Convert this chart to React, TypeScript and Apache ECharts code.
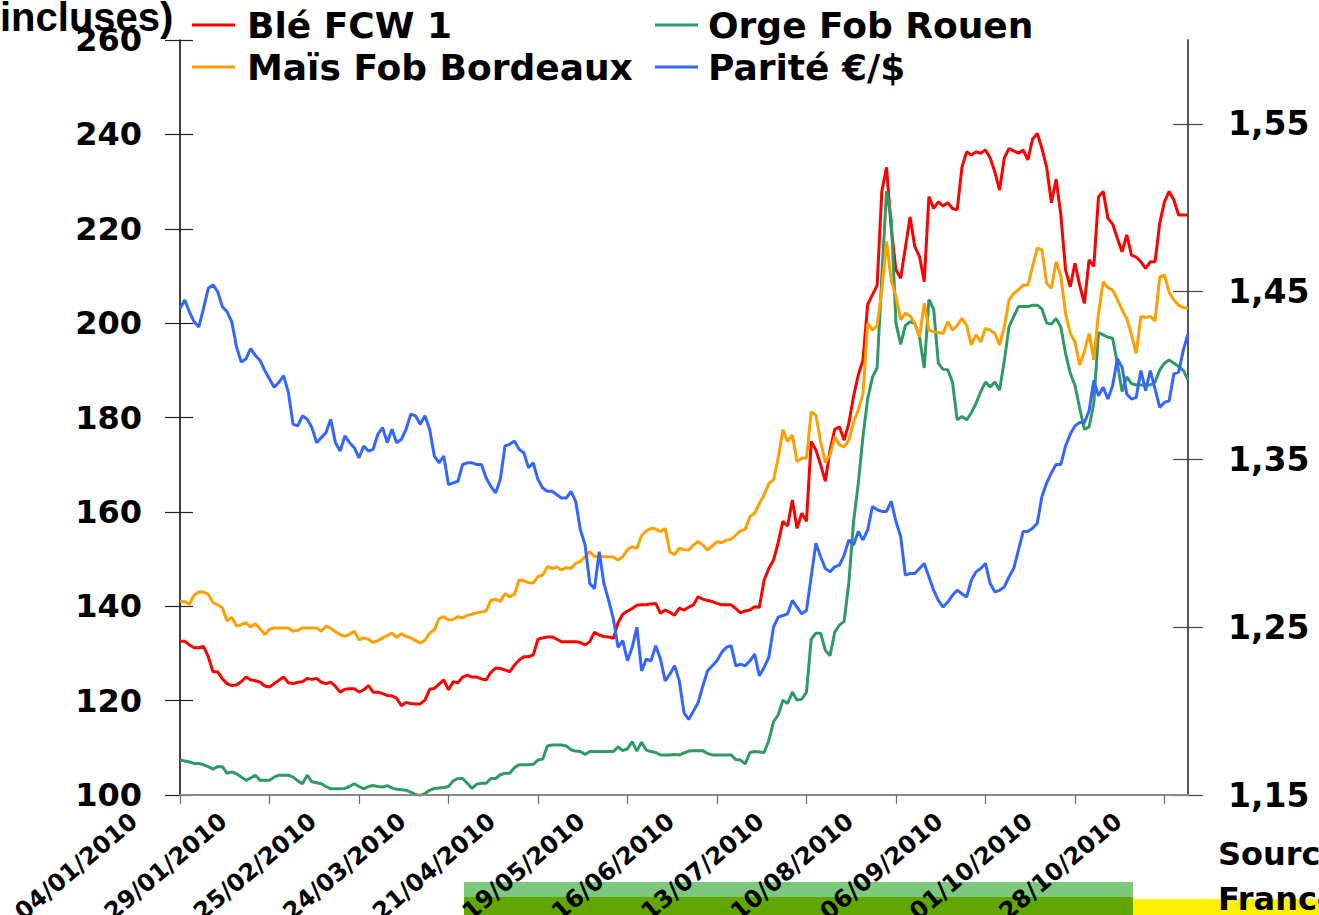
import React, { useEffect, useRef } from "react";
import * as echarts from "echarts";

// ---------- data ----------
const START_DATE = "2010-01-04";
const HOLIDAYS = ["2010-04-05", "2010-05-13", "2010-05-24", "2010-07-14", "2010-11-01"];

const BLE = [
  132.6, 132.6, 131.8, 131.2, 131.2, 131.5, 129.3, 126.1, 126.1, 124.6,
  123.6, 123.2, 123.3, 124.0, 125.0, 124.4, 124.2, 123.9, 123.1, 122.9,
  123.6, 124.3, 125.0, 123.8, 123.6, 123.9, 124.0, 124.7, 124.5, 124.7,
  123.9, 123.6, 123.9, 123.0, 121.8, 122.4, 122.5, 122.5, 121.8, 122.3,
  123.2, 121.8, 121.8, 121.5, 121.1, 121.0, 120.5, 118.9, 119.6, 119.4,
  119.3, 119.3, 120.1, 122.4, 122.6, 123.5, 124.4, 122.3, 124.0, 123.8,
  125.0, 125.4, 125.0, 125.0, 124.6, 124.4, 126.0, 126.9, 126.8, 126.5,
  126.1, 127.5, 128.6, 129.3, 129.3, 129.7, 133.0, 133.3, 133.5, 133.5,
  133.0, 132.5, 132.5, 132.5, 132.5, 132.3, 131.8, 132.5, 134.5, 133.9,
  133.6, 133.5, 133.2, 136.5, 138.3, 139.0, 139.5, 140.2, 140.3, 140.3,
  140.5, 140.6, 138.5, 139.2, 138.7, 138.1, 139.6, 139.2, 139.8, 140.3,
  142.0, 141.5, 141.2, 141.0, 140.6, 140.3, 140.3, 140.3, 139.5, 138.6,
  139.0, 139.2, 139.9, 139.8, 145.5, 148.0, 149.8, 153.5, 158.0, 157.0,
  162.5, 156.5, 159.7, 158.0, 174.9, 173.1, 170.0, 166.5, 173.0, 177.5,
  178.0, 175.2, 178.8, 184.5, 189.0, 192.2, 204.0, 206.0, 208.0, 228.0,
  233.0, 220.0, 211.3, 209.5, 216.0, 222.5, 216.2, 214.1, 208.8, 226.8,
  224.3, 225.7, 224.8, 225.5, 224.3, 224.0, 233.0, 236.3, 235.6, 236.3,
  236.0, 236.7, 235.0, 232.0, 228.2, 235.0, 237.0, 236.5, 236.0, 236.7,
  234.6, 239.0, 240.2, 237.0, 233.0, 225.5, 230.5, 223.0, 211.3, 207.7,
  212.7, 208.0, 204.2, 213.4, 212.0, 226.8, 227.9, 222.2, 221.0, 218.0,
  215.1, 218.7, 214.4, 214.0, 213.0, 211.6, 213.0, 213.0, 221.2, 225.7,
  227.9, 226.1, 222.9, 222.9, 222.9,
];

const ORGE = [
  107.4, 107.2, 107.0, 106.7, 106.7, 106.4, 106.0, 105.5, 106.0, 106.0,
  104.6, 104.9, 104.5, 103.8, 103.1, 103.6, 104.2, 103.1, 103.1, 103.1,
  103.8, 104.2, 104.2, 104.2, 103.8, 103.0, 102.4, 104.2, 102.8, 102.6,
  102.4, 101.8, 101.3, 101.3, 101.3, 101.4, 101.8, 102.4, 101.8, 101.3,
  101.8, 102.0, 101.8, 101.7, 102.0, 101.5, 101.2, 101.1, 101.0, 100.6,
  100.1, 99.9, 100.3, 101.0, 101.4, 101.5, 101.6, 101.8, 103.0, 103.5,
  103.5, 102.5, 101.4, 102.3, 102.5, 102.5, 103.5, 103.5, 104.3, 104.6,
  104.6, 105.8, 106.4, 106.4, 106.4, 106.5, 107.4, 107.6, 110.4, 110.6,
  110.6, 110.6, 110.4, 109.6, 109.3, 109.2, 108.6, 109.2, 109.2, 109.2,
  109.2, 109.2, 109.2, 110.2, 109.4, 109.8, 111.3, 109.3, 111.2, 109.5,
  109.2, 109.0, 108.5, 108.5, 108.5, 108.6, 108.5, 108.9, 109.3, 109.4,
  109.4, 109.4, 108.8, 108.5, 108.5, 108.5, 108.5, 108.5, 107.5, 107.4,
  106.6, 109.0, 109.2, 109.1, 109.0, 111.5, 115.5, 117.0, 120.1, 119.4,
  121.8, 120.1, 120.3, 121.8, 133.0, 134.3, 134.3, 130.7, 129.5, 134.5,
  136.0, 136.8, 145.0, 158.0, 166.0, 176.0, 184.0, 188.5, 190.5, 210.0,
  228.0, 222.0, 200.0, 195.5, 199.5, 200.3, 199.9, 197.1, 190.5, 205.0,
  203.0, 191.5, 190.2, 190.1, 187.5, 179.5, 180.2, 179.5, 181.0, 183.0,
  185.5, 187.5, 186.5, 187.5, 185.8, 192.0, 199.2, 201.4, 203.5, 203.5,
  203.5, 203.8, 203.8, 203.0, 200.0, 199.8, 201.0, 199.2, 193.6, 189.4,
  186.8, 182.0, 177.5, 178.0, 183.0, 198.0, 197.5, 197.0, 196.8, 191.5,
  185.5, 188.6, 187.2, 186.9, 186.9, 186.9, 186.9, 187.5, 190.1, 191.5,
  192.2, 191.5, 190.8, 190.0, 188.0,
];

const MAIS = [
  141.0, 141.0, 140.4, 142.4, 143.0, 143.0, 142.5, 140.8, 140.3, 139.7,
  136.9, 137.6, 135.8, 136.1, 136.5, 135.6, 136.3, 135.2, 134.0, 135.1,
  135.4, 135.4, 135.4, 135.4, 134.7, 134.9, 135.4, 135.4, 135.4, 135.4,
  134.7, 135.8, 135.3, 134.6, 134.0, 133.6, 134.1, 134.7, 132.9, 133.3,
  133.0, 132.3, 132.7, 133.3, 133.8, 134.3, 133.4, 134.2, 133.6, 133.3,
  132.7, 132.2, 132.8, 134.3, 135.0, 137.4, 137.8, 137.1, 137.2, 137.8,
  137.5, 138.1, 138.3, 138.6, 138.8, 139.0, 141.3, 141.5, 141.0, 142.7,
  142.0, 142.5, 145.6, 145.4, 145.0, 144.9, 146.3, 146.6, 148.4, 148.0,
  148.3, 147.7, 148.2, 148.0, 149.1, 149.5, 150.5, 151.6, 150.5, 150.6,
  150.5, 150.5, 150.4, 149.8, 150.5, 152.0, 152.6, 152.3, 155.0, 156.0,
  156.5, 156.4, 155.8, 156.5, 151.5, 150.9, 152.3, 152.0, 151.9, 153.0,
  153.7, 153.0, 151.9, 152.8, 153.7, 153.5, 154.0, 154.2, 155.1, 156.0,
  156.3, 159.0, 159.7, 161.8, 163.6, 166.0, 166.8, 171.4, 177.4, 174.9,
  176.3, 170.6, 171.4, 171.4, 181.2, 180.5, 174.9, 170.5, 172.0, 175.9,
  174.2, 173.8, 175.2, 179.0, 181.6, 185.0, 200.0, 198.5, 199.5, 207.0,
  217.3, 209.0, 205.6, 200.7, 202.1, 201.5, 200.0, 197.1, 204.2, 198.5,
  198.2, 198.0, 197.8, 200.3, 198.5, 199.5, 201.0, 199.5, 195.4, 197.5,
  196.0, 198.9, 198.5, 197.8, 195.4, 199.2, 204.9, 206.3, 207.0, 208.1,
  208.0, 212.0, 215.9, 215.5, 208.4, 207.4, 213.0, 210.0, 202.1, 197.8,
  196.0, 191.1, 194.0, 197.8, 192.2, 202.1, 208.8, 207.5, 207.0, 205.0,
  202.8, 201.0, 197.5, 193.6, 201.4, 201.2, 201.4, 200.5, 209.8, 210.2,
  206.5, 204.9, 203.8, 203.3, 203.1,
];

const PARITE = [
  1.44, 1.445, 1.438, 1.432, 1.429, 1.44, 1.452, 1.454, 1.45, 1.441,
  1.438, 1.432, 1.417, 1.408, 1.41, 1.416, 1.412, 1.409, 1.403, 1.398,
  1.393, 1.396, 1.4, 1.39, 1.371, 1.37, 1.376, 1.374, 1.369, 1.36,
  1.363, 1.366, 1.374, 1.36, 1.355, 1.364, 1.36, 1.357, 1.351, 1.358,
  1.355, 1.356, 1.365, 1.369, 1.36, 1.368, 1.36, 1.362, 1.368, 1.377,
  1.376, 1.371, 1.376, 1.368, 1.352, 1.348, 1.352, 1.335, 1.336, 1.337,
  1.347, 1.348, 1.348, 1.347, 1.347, 1.339, 1.334, 1.33, 1.338, 1.358,
  1.359, 1.361, 1.356, 1.354, 1.345, 1.348, 1.338, 1.333, 1.331, 1.331,
  1.329, 1.327, 1.327, 1.331, 1.325, 1.308, 1.299, 1.276, 1.273, 1.295,
  1.276, 1.266, 1.255, 1.238, 1.242, 1.23, 1.238, 1.25, 1.224, 1.231,
  1.23, 1.239, 1.231, 1.218, 1.222, 1.227, 1.218, 1.199, 1.195, 1.2,
  1.205, 1.215, 1.224, 1.227, 1.23, 1.235, 1.238, 1.239, 1.227, 1.228,
  1.227, 1.23, 1.234, 1.221, 1.226, 1.232, 1.25, 1.256, 1.257, 1.258,
  1.266, 1.262, 1.258, 1.26, 1.28, 1.3, 1.292, 1.285, 1.283, 1.286,
  1.287, 1.293, 1.302, 1.299, 1.307, 1.302, 1.308, 1.322, 1.32, 1.319,
  1.319, 1.325, 1.313, 1.304, 1.281, 1.282, 1.282, 1.285, 1.288, 1.28,
  1.272, 1.266, 1.262, 1.265, 1.269, 1.272, 1.27, 1.268, 1.278, 1.283,
  1.285, 1.288, 1.276, 1.271, 1.272, 1.274, 1.28, 1.285, 1.296, 1.307,
  1.307, 1.309, 1.312, 1.328, 1.336, 1.342, 1.347, 1.347, 1.358, 1.365,
  1.37, 1.372, 1.372, 1.379, 1.397, 1.388, 1.393, 1.386, 1.394, 1.41,
  1.405, 1.389, 1.386, 1.387, 1.403, 1.391, 1.403, 1.392, 1.381, 1.384,
  1.385, 1.401, 1.402, 1.415, 1.425,
];

const RIGHT_TICKS = [1.15, 1.25, 1.35, 1.45, 1.55];

const SERIES_NAMES = ["Blé FCW 1", "Orge Fob Rouen", "Maïs Fob Bordeaux", "Parité €/$"];
const SERIES_COLORS = ["#ff0000", "#2f9a64", "#ffa000", "#3366ff"];

// trading days (weekends and market holidays skipped)
function tradingDays(start: string, count: number): string[] {
  const out: string[] = [];
  const d = new Date(start + "T00:00:00Z");
  while (out.length < count) {
    const wd = d.getUTCDay();
    const iso = d.toISOString().slice(0, 10);
    if (wd !== 0 && wd !== 6 && HOLIDAYS.indexOf(iso) < 0) {
      const [y, m, dd] = iso.split("-");
      out.push(`${dd}/${m}/${y}`);
    }
    d.setUTCDate(d.getUTCDate() + 1);
  }
  return out;
}

const DATES = tradingDays(START_DATE, BLE.length);

const FONT = "DejaVu Sans";

export default function App() {
  const ref = useRef<HTMLDivElement>(null);

  useEffect(() => {
    if (!ref.current) return;
    const chart = echarts.init(ref.current, undefined, { renderer: "svg" });

    const legendText = {
      fontFamily: FONT,
      fontWeight: "bold" as const,
      fontSize: 36,
      color: "#000",
      lineHeight: 36,
      padding: [0, 0, 0, 7],
    };

    const mk = (i: number, data: number[], yAxisIndex: number) => ({
      name: SERIES_NAMES[i],
      type: "line" as const,
      data,
      yAxisIndex,
      showSymbol: false,
      symbol: "none",
      lineStyle: { color: SERIES_COLORS[i], width: 3 },
      itemStyle: { color: SERIES_COLORS[i] },
      emphasis: { disabled: true },
    });

    chart.setOption({
      animation: false,
      backgroundColor: "#ffffff",
      grid: {
        left: 180,
        right: 131,
        top: 40,
        bottom: 120,
        containLabel: false,
        outerBoundsMode: "none",
      },
      legend: [
        {
          data: [SERIES_NAMES[0], SERIES_NAMES[2]],
          orient: "vertical",
          left: 192,
          top: 7,
          padding: 0,
          icon: "rect",
          itemWidth: 43,
          itemHeight: 3,
          itemGap: 6,
          textStyle: legendText,
          selectedMode: false,
        },
        {
          data: [SERIES_NAMES[1], SERIES_NAMES[3]],
          orient: "vertical",
          left: 655,
          top: 7,
          padding: 0,
          icon: "rect",
          itemWidth: 43,
          itemHeight: 3,
          itemGap: 6,
          textStyle: { ...legendText, padding: [0, 0, 0, 5] },
          selectedMode: false,
        },
      ],
      xAxis: {
        type: "category",
        data: DATES,
        boundaryGap: false,
        z: 5,
        axisLine: { show: true, lineStyle: { color: "#8a8a8a", width: 2 } },
        axisTick: { show: true, interval: 18, length: 9, lineStyle: { color: "#666", width: 1.2 } },
        axisLabel: {
          interval: 18,
          rotate: 40,
          margin: 0,
          padding: [0, 50, 0, 0],
          verticalAlign: "bottom",
          fontFamily: FONT,
          fontWeight: "bold",
          fontSize: 24,
          color: "#000",
        },
        splitLine: { show: false },
      },
      yAxis: [
        {
          type: "value",
          position: "left",
          min: 100,
          max: 260,
          interval: 20,
          axisLine: { show: true, lineStyle: { color: "#000", width: 1.5 } },
          axisTick: { show: true, inside: false, length: 15, lineStyle: { color: "#222", width: 1.2 } },
          axisLabel: { margin: 38, fontFamily: FONT, fontWeight: "bold", fontSize: 32, color: "#000" },
          splitLine: { show: false },
        },
        {
          type: "value",
          position: "right",
          min: 1.15,
          max: 1.6,
          axisLine: { show: true, lineStyle: { color: "#555", width: 2 } },
          axisTick: {
            show: true,
            inside: false,
            length: 15,
            customValues: RIGHT_TICKS,
            lineStyle: { color: "#444", width: 1.2 },
          },
          axisLabel: {
            customValues: RIGHT_TICKS,
            margin: 40,
            fontFamily: FONT,
            fontWeight: "bold",
            fontSize: 33,
            color: "#000",
            formatter: (v: number) => v.toFixed(2).replace(".", ","),
          },
          splitLine: { show: false },
        },
        {
          type: "value",
          position: "left",
          min: 100,
          max: 260,
          interval: 20,
          axisLine: { show: false },
          axisTick: { show: true, inside: true, length: 13, lineStyle: { color: "#222", width: 1.2 } },
          axisLabel: { show: false },
          splitLine: { show: false },
        },
        {
          type: "value",
          position: "right",
          min: 1.15,
          max: 1.6,
          axisLine: { show: false },
          axisTick: {
            show: true,
            inside: true,
            length: 15,
            customValues: RIGHT_TICKS,
            lineStyle: { color: "#444", width: 1.2 },
          },
          axisLabel: { show: false, customValues: RIGHT_TICKS },
          splitLine: { show: false },
        },
      ],
      series: [mk(0, BLE, 0), mk(1, ORGE, 0), mk(2, MAIS, 0), mk(3, PARITE, 1)],
      graphic: [
        { type: "rect", z: -1, shape: { x: 464, y: 882, width: 669, height: 16 }, style: { fill: "#7cc87c" } },
        { type: "rect", z: -1, shape: { x: 464, y: 897, width: 669, height: 18 }, style: { fill: "#62a700" } },
        { type: "rect", z: -1, shape: { x: 1133, y: 899, width: 186, height: 16 }, style: { fill: "#fff000" } },
        {
          type: "text",
          x: 0,
          y: 37,
          style: {
            text: "incluses)",
            fill: "#000",
            fontFamily: '"Liberation Sans", Arial, sans-serif',
            fontWeight: "bold",
            fontSize: 40,
            verticalAlign: "bottom",
          },
        },
        {
          type: "text",
          x: 1218,
          y: 838,
          style: { text: "Source", fill: "#000", fontFamily: FONT, fontWeight: "bold", fontSize: 32, verticalAlign: "top" },
        },
        {
          type: "text",
          x: 1218,
          y: 883,
          style: { text: "France", fill: "#000", fontFamily: FONT, fontWeight: "bold", fontSize: 32, verticalAlign: "top" },
        },
      ],
    });

    return () => chart.dispose();
  }, []);

  return (
    <div
      ref={ref}
      style={{ position: "absolute", left: 0, top: 0, width: 1319, height: 915, background: "#fff" }}
    />
  );
}
